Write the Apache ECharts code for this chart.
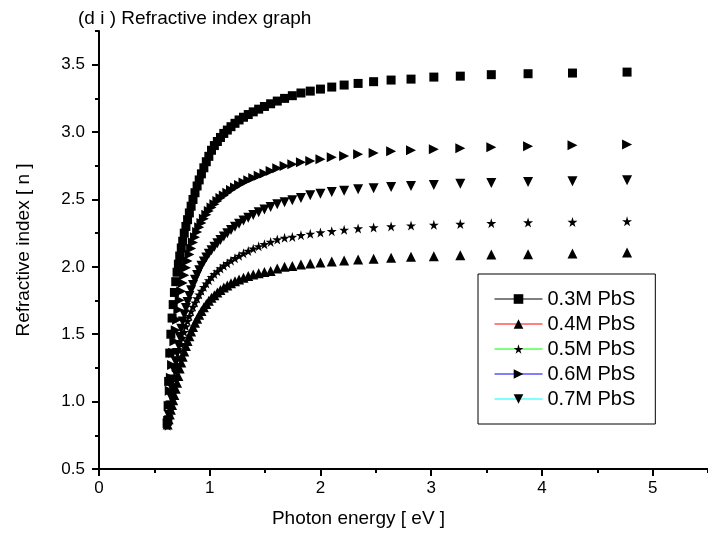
<!DOCTYPE html>
<html>
<head>
<meta charset="utf-8">
<title>Refractive index graph</title>
<script src="https://cdn.jsdelivr.net/npm/echarts/dist/echarts.min.js"></script>
<style>
  body { margin: 0; background: #fff; }
  #chartsId { width: 708px; height: 539px; }
</style>
</head>
<body>
<div id="chartsId"></div>
<script>
// photon energy (eV) of the measured points
let energy = [4.769, 4.276, 3.875, 3.543, 3.263, 3.024, 2.818, 2.638, 2.480, 2.340,
  2.214, 2.102, 2.000, 1.908, 1.824, 1.746, 1.676, 1.610, 1.550, 1.494,
  1.442, 1.393, 1.348, 1.305, 1.265, 1.228, 1.192, 1.159, 1.127, 1.097,
  1.069, 1.042, 1.016, 0.992, 0.969, 0.947, 0.925, 0.905, 0.886, 0.867,
  0.849, 0.832, 0.816, 0.800, 0.785, 0.770, 0.756, 0.743, 0.729, 0.717,
  0.705, 0.693, 0.681, 0.670, 0.660, 0.649, 0.639, 0.629, 0.620];

// refractive index for each concentration
let n03 = [3.445, 3.438, 3.433, 3.426, 3.415, 3.408, 3.393, 3.386, 3.374, 3.361,
  3.349, 3.334, 3.319, 3.304, 3.29, 3.27, 3.25, 3.23, 3.21, 3.19,
  3.17, 3.15, 3.13, 3.11, 3.09, 3.065, 3.04, 3.015, 2.99, 2.96,
  2.93, 2.90, 2.865, 2.82, 2.78, 2.735, 2.69, 2.645, 2.60, 2.55,
  2.50, 2.45, 2.40, 2.35, 2.30, 2.25, 2.19, 2.14, 2.08, 2.02,
  1.96, 1.89, 1.81, 1.72, 1.62, 1.50, 1.36, 1.15, 0.86];
let n04 = [2.106, 2.099, 2.094, 2.091, 2.086, 2.079, 2.074, 2.067, 2.060, 2.055,
  2.048, 2.040, 2.033, 2.025, 2.017, 2.007, 2.000, 1.988, 1.970, 1.962,
  1.952, 1.943, 1.932, 1.92, 1.907, 1.893, 1.878, 1.862, 1.846, 1.828,
  1.81, 1.79, 1.77, 1.748, 1.725, 1.70, 1.672, 1.645, 1.615, 1.585,
  1.553, 1.52, 1.485, 1.45, 1.412, 1.372, 1.332, 1.29, 1.245, 1.19,
  1.14, 1.095, 1.05, 1.01, 0.975, 0.94, 0.905, 0.87, 0.83];
let n05 = [2.338, 2.333, 2.329, 2.324, 2.318, 2.312, 2.306, 2.300, 2.292, 2.285,
  2.275, 2.265, 2.255, 2.245, 2.235, 2.222, 2.215, 2.203, 2.185, 2.168,
  2.152, 2.135, 2.118, 2.10, 2.082, 2.064, 2.046, 2.027, 2.008, 1.988,
  1.967, 1.946, 1.924, 1.90, 1.876, 1.85, 1.822, 1.794, 1.765, 1.735,
  1.703, 1.67, 1.635, 1.598, 1.558, 1.516, 1.472, 1.426, 1.378, 1.328,
  1.276, 1.222, 1.166, 1.11, 1.055, 1.00, 0.95, 0.89, 0.82];
let n06 = [2.907, 2.902, 2.894, 2.887, 2.880, 2.872, 2.865, 2.857, 2.845, 2.835,
  2.823, 2.813, 2.799, 2.785, 2.776, 2.761, 2.748, 2.731, 2.711, 2.693,
  2.676, 2.659, 2.642, 2.625, 2.607, 2.589, 2.57, 2.55, 2.53, 2.51,
  2.488, 2.465, 2.44, 2.414, 2.386, 2.357, 2.326, 2.293, 2.258, 2.22,
  2.18, 2.137, 2.092, 2.044, 1.993, 1.938, 1.88, 1.818, 1.752, 1.682,
  1.608, 1.53, 1.448, 1.362, 1.272, 1.178, 1.08, 0.97, 0.84];
let n07 = [2.642, 2.635, 2.630, 2.622, 2.617, 2.607, 2.600, 2.592, 2.583, 2.575,
  2.564, 2.556, 2.542, 2.531, 2.511, 2.494, 2.479, 2.464, 2.444, 2.425,
  2.405, 2.385, 2.365, 2.343, 2.32, 2.297, 2.273, 2.25, 2.226, 2.20,
  2.175, 2.15, 2.124, 2.097, 2.07, 2.04, 2.008, 1.975, 1.94, 1.905,
  1.866, 1.826, 1.784, 1.74, 1.695, 1.646, 1.595, 1.54, 1.48, 1.42,
  1.36, 1.295, 1.23, 1.165, 1.10, 1.035, 0.97, 0.90, 0.83];

let names = ["0.3M PbS", "0.4M PbS", "0.5M PbS", "0.6M PbS", "0.7M PbS"];
let lineColors = ["#000000", "#ff0000", "#00ff00", "#0000ff", "#00ffff"];

let xMajor = [0, 1, 2, 3, 4, 5];
let xMinor = [0.5, 1.5, 2.5, 3.5, 4.5, 5.5];
let yMajor = [0.5, 1.0, 1.5, 2.0, 2.5, 3.0, 3.5];
let yMinor = [0.75, 1.25, 1.75, 2.25, 2.75, 3.25, 3.75];

const font = "Liberation Sans, Arial, Helvetica, sans-serif";
const star = "path://M50,0 L61,35 L98,35 L68,57 L79,91 L50,70 L21,91 L32,57 L2,35 L39,35 Z";

function pairs(ys) {
  return energy.map(function(x, i) {
    return [x, ys[i]];
  });
}

function makeSeries(name, ys, symbol, size, rotate) {
  return {
    name: name,
    type: "line",
    data: pairs(ys),
    symbol: symbol,
    symbolSize: size,
    symbolRotate: rotate,
    showSymbol: true,
    lineStyle: { opacity: 0 },
    itemStyle: { color: "#000", borderWidth: 0 },
    emphasis: { disabled: true },
    z: 3
  };
}

let myChart = echarts.init(document.getElementById("chartsId"));
let option = {
  animation: false,
  title: {
    text: "(d i ) Refractive index graph",
    left: 73,
    top: 4,
    textStyle: { fontFamily: font, fontSize: 19, fontWeight: "normal", color: "#000" }
  },
  legend: {
    orient: "vertical",
    left: 478,
    top: 274,
    padding: [15, 20, 15, 16],
    borderColor: "#000",
    borderWidth: 1,
    itemWidth: 48,
    itemHeight: 12,
    itemGap: 5,
    textStyle: { fontFamily: font, fontSize: 20, color: "#000" },
    data: names.map(function(name, i) {
      return { name: name, lineStyle: { color: lineColors[i], width: 1, opacity: 1 } };
    })
  },
  grid: { left: 99, right: -4, top: 31, bottom: 70 },
  xAxis: [
    {
      type: "value",
      min: 0,
      max: 5.5,
      interval: 1,
      name: "Photon energy [ eV ]",
      nameLocation: "middle",
      nameGap: 40,
      nameTextStyle: { fontFamily: font, fontSize: 19, color: "#000", padding: [0, 90, 0, 0] },
      axisLine: { lineStyle: { color: "#000", width: 2 } },
      axisTick: { length: 7, lineStyle: { color: "#000", width: 2 }, customValues: xMajor },
      axisLabel: { fontFamily: font, fontSize: 17, color: "#000", margin: 11, customValues: xMajor },
      splitLine: { show: false }
    },
    {
      type: "value",
      min: 0,
      max: 5.5,
      position: "bottom",
      axisLine: { show: false },
      axisTick: { length: 4, lineStyle: { color: "#000", width: 2 }, customValues: xMinor },
      axisLabel: { show: false },
      splitLine: { show: false }
    }
  ],
  yAxis: [
    {
      type: "value",
      min: 0.5,
      max: 3.75,
      interval: 0.5,
      name: "Refractive index [ n ]",
      nameLocation: "middle",
      nameGap: 66,
      nameTextStyle: { fontFamily: font, fontSize: 19, color: "#000" },
      axisLine: { show: true, lineStyle: { color: "#000", width: 2 } },
      axisTick: { show: true, length: 7, lineStyle: { color: "#000", width: 2 }, customValues: yMajor },
      axisLabel: {
        fontFamily: font,
        fontSize: 17,
        color: "#000",
        margin: 14,
        customValues: yMajor,
        formatter: function(v) {
          return v.toFixed(1);
        }
      },
      splitLine: { show: false }
    },
    {
      type: "value",
      min: 0.5,
      max: 3.75,
      position: "left",
      axisLine: { show: false },
      axisTick: { show: true, length: 4, lineStyle: { color: "#000", width: 2 }, customValues: yMinor },
      axisLabel: { show: false },
      splitLine: { show: false }
    }
  ],
  series: [
    makeSeries(names[0], n03, "rect", 9, 0),
    makeSeries(names[1], n04, "triangle", 10, 0),
    makeSeries(names[2], n05, star, 10, 0),
    makeSeries(names[3], n06, "triangle", 10, -90),
    makeSeries(names[4], n07, "triangle", 10, 180)
  ]
};
myChart.setOption(option);
</script>
</body>
</html>
